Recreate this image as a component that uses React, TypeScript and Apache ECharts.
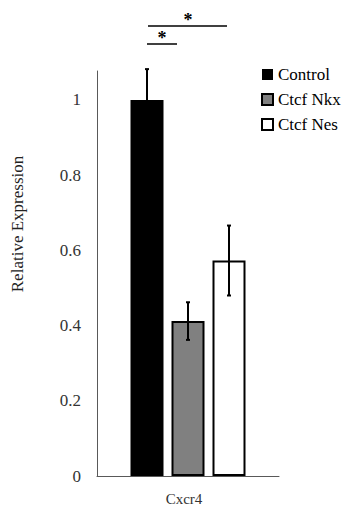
import React, { useEffect, useRef } from "react";
import * as echarts from "echarts";

const categories = ["Cxcr4"];
const seriesNames = ["Control", "Ctcf Nkx", "Ctcf Nes"];
const values = [1.0, 0.412, 0.573];
const errors = [0.082, 0.05, 0.093];
const fills = ["#000000", "#808080", "#ffffff"];
const yTicks = [0, 0.2, 0.4, 0.6, 0.8, 1];
const yTitle = "Relative Expression";

const FONT = "'Liberation Serif', 'Times New Roman', serif";
const BAR_W = 33;
const GAP = 8;

export default function App() {
  const ref = useRef<HTMLDivElement>(null);
  useEffect(() => {
    document.body.style.margin = "0";
    const chart = echarts.init(ref.current!, null, { renderer: "svg" });
    const barSeries = seriesNames.map((name, i) => ({
      name,
      type: "bar",
      data: [values[i]],
      barWidth: BAR_W,
      barGap: `${(GAP / BAR_W) * 100}%`,
      itemStyle: { color: fills[i], borderColor: "#000", borderWidth: i === 0 ? 0 : 2 },
      emphasis: { disabled: true },
    }));
    const errSeries = {
      type: "custom",
      silent: true,
      clip: false,
      data: seriesNames.map((_, i) => [i, values[i], errors[i]]),
      renderItem: (params: any, api: any) => {
        const i = api.value(0);
        const v = api.value(1);
        const e = api.value(2);
        const cx = api.coord([0, 0])[0] + (i - 1) * (BAR_W + GAP);
        const yt = api.coord([0, v + e])[1];
        const yb = api.coord([0, v - e])[1];
        const st = { stroke: "#000", lineWidth: 2 };
        return {
          type: "group",
          children: [
            { type: "line", shape: { x1: cx, y1: yt, x2: cx, y2: yb }, style: st },
            { type: "line", shape: { x1: cx - 2, y1: yt, x2: cx + 2, y2: yt }, style: st },
            { type: "line", shape: { x1: cx - 2, y1: yb, x2: cx + 2, y2: yb }, style: st },
          ],
        };
      },
      z: 10,
    };
    chart.setOption({
      animation: false,
      backgroundColor: "#ffffff",
      textStyle: { fontFamily: FONT },
      grid: { left: 97, right: 63, top: 71, bottom: 30 },
      legend: {
        orient: "vertical",
        left: 261,
        top: 66,
        padding: 0,
        icon: "rect",
        itemWidth: 11,
        itemHeight: 11,
        itemGap: 8,
        data: seriesNames,
        textStyle: { fontFamily: FONT, fontSize: 17, color: "#000" },
        selectedMode: false,
      },
      xAxis: {
        type: "category",
        data: categories,
        axisLine: { lineStyle: { color: "#595959", width: 1 } },
        axisTick: { show: false },
        axisLabel: { fontFamily: FONT, fontSize: 15, color: "#333", margin: 15, padding: [0, 8, 0, 0] },
      },
      yAxis: {
        type: "value",
        min: 0,
        max: 1.077,
        interval: 0.2,
        axisLine: { show: true, lineStyle: { color: "#595959", width: 1 } },
        axisTick: { show: false },
        splitLine: { show: false },
        axisLabel: {
          fontFamily: FONT,
          fontSize: 17,
          color: "#333",
          margin: 16,
          showMaxLabel: false,
          formatter: (v: number) => (yTicks.some((t) => Math.abs(t - v) < 1e-6) ? String(+v.toFixed(1)) : ""),
        },
      },
      graphic: [
        { type: "text", x: 17.5, y: 224, rotation: Math.PI / 2, style: { text: yTitle, font: `17px ${FONT}`, fill: "#222", align: "center", verticalAlign: "middle" } },
        { type: "line", shape: { x1: 148, y1: 26, x2: 227, y2: 26 }, style: { stroke: "#000", lineWidth: 1.5 } },
        { type: "text", x: 188, y: 20, style: { text: "*", font: `bold 18px ${FONT}`, fill: "#000", align: "center", verticalAlign: "middle" } },
        { type: "line", shape: { x1: 147, y1: 44, x2: 177, y2: 44 }, style: { stroke: "#000", lineWidth: 1.5 } },
        { type: "text", x: 162, y: 38, style: { text: "*", font: `bold 18px ${FONT}`, fill: "#000", align: "center", verticalAlign: "middle" } },
      ],
      series: [...barSeries, errSeries],
    });
    return () => chart.dispose();
  }, []);
  return <div ref={ref} style={{ width: 342, height: 506 }} />;
}
